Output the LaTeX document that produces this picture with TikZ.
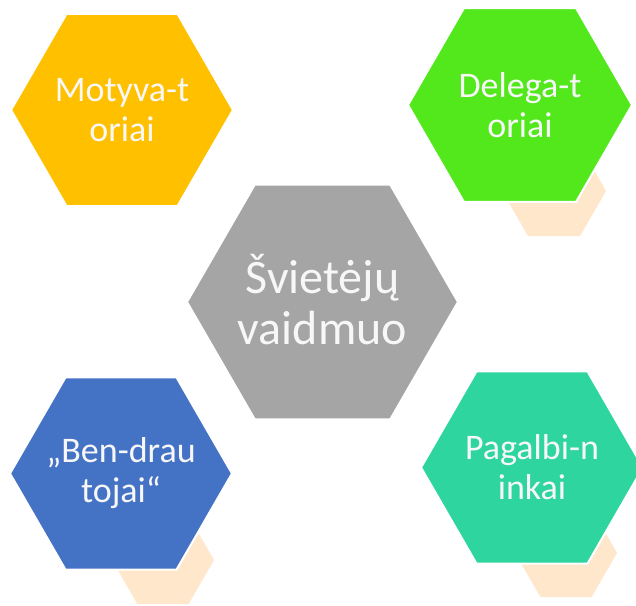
\documentclass[tikz,border=0pt]{standalone}
\usepackage{fontspec}
\setmainfont{Carlito}
\usetikzlibrary{shapes.geometric}
\definecolor{hexorange}{HTML}{FFC000}
\definecolor{hexgreen}{HTML}{52E81C}
\definecolor{hexgray}{HTML}{A5A5A5}
\definecolor{hexblue}{HTML}{4472C4}
\definecolor{hexteal}{HTML}{2ED59F}
\definecolor{hexpeach}{HTML}{FFE7CC}
\definecolor{hextext}{HTML}{F7F7F7}
\tikzset{
  hexbase/.style={regular polygon, regular polygon sides=6, inner sep=0pt},
  bighex/.style={hexbase, draw=white, line width=2pt, minimum size=#1},
  smallhex/.style={hexbase, fill=hexpeach, minimum size=#1},
  hexlabel/.style={text=hextext, align=center, inner sep=0pt,
    font=\fontsize{36}{40}\selectfont},
}
\begin{document}
\begin{tikzpicture}[x=1pt,y=-1pt]
\useasboundingbox[fill=white] (0,0) rectangle (636,605);
% small decorative hexagons
\node[smallhex=104pt] (p1) at (554,191) {};
\node[smallhex=102pt] (p2) at (163,560) {};
\node[smallhex=102pt] (p3) at (566,553) {};
% main hexagons
\node[bighex=222pt, fill=hexorange] (motyv) at (122,110) {};
\node[bighex=224pt, fill=hexgreen] (deleg) at (520,105) {};
\node[bighex=271pt, fill=hexgray] (center) at (322.5,302) {};
\node[bighex=222pt, fill=hexblue] (bendr) at (121,473.5) {};
\node[bighex=222pt, fill=hexteal] (pagal) at (532,467.5) {};
% labels
\node[hexlabel] (tmotyv) at (motyv.center) {Motyva-t\\oriai};
\node[hexlabel] (tdeleg) at (deleg.center) {Delega-t\\oriai};
\node[hexlabel, font=\fontsize{48}{51}\selectfont] (tcenter) at ([yshift=2]center.center) {Švietėjų\\vaidmuo};
\node[hexlabel] (tbendr) at (bendr.center) {„Ben-drau\\tojai“};
\node[hexlabel] (tpagal) at (pagal.center) {Pagalbi-n\\inkai};
\end{tikzpicture}
\end{document}
